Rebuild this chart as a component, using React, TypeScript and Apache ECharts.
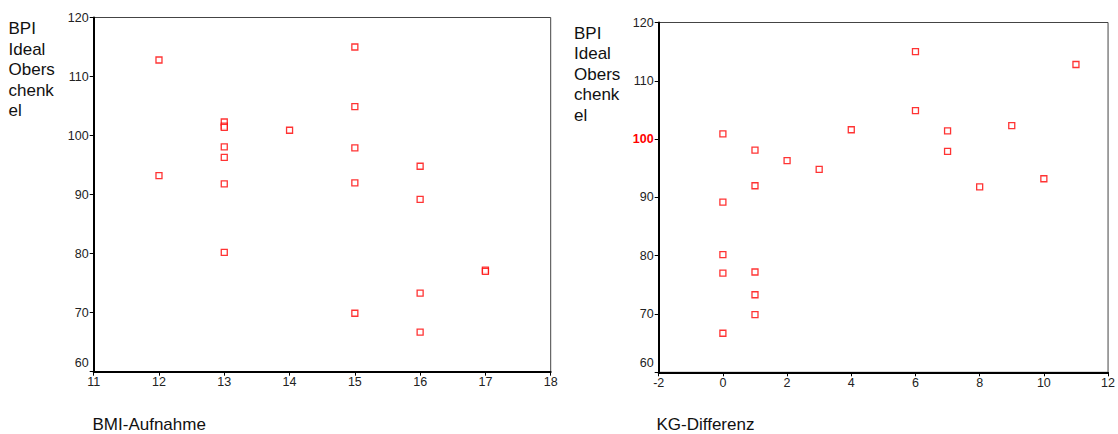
import React, { useEffect, useRef } from "react";
import * as echarts from "echarts";

const bpiIdeal = [112.8, 93.2, 102.3, 101.6, 101.4, 98.1, 96.3, 91.8, 80.2, 100.9, 115.0, 104.9, 97.9, 92.0, 69.9, 94.8, 89.2, 73.3, 66.7, 77.2, 77.0];
const bmiAufnahme = [12, 12, 13, 13, 13, 13, 13, 13, 13, 14, 15, 15, 15, 15, 15, 16, 16, 16, 16, 17, 17];
const kgDifferenz = [11, 10, 9, 4, 7, 1, 2, 8, 0, 0, 6, 6, 7, 1, 1, 3, 0, 1, 0, 1, 0];

const yAxisTitle = ["BPI", "Ideal", "Obers", "chenk", "el"];
const xTitleLeft = "BMI-Aufnahme";
const xTitleRight = "KG-Differenz";

const FONT = "'Liberation Sans', Arial, sans-serif";
const TICK_FS = 12.5;

export default function App() {
  const ref = useRef<HTMLDivElement>(null);
  useEffect(() => {
    if (!ref.current) return;
    const chart = echarts.init(ref.current, null, { renderer: "svg" });
    const leftData = bmiAufnahme.map((x, i) => [x, bpiIdeal[i]]);
    const rightData = kgDifferenz.map((x, i) => [x, bpiIdeal[i]]);

    const yAxisBase = (gi: number, highlight: boolean) => ({
      type: "value",
      gridIndex: gi,
      min: 60,
      max: 120,
      interval: 10,
      splitLine: { show: false },
      axisLine: { show: true, onZero: false, lineStyle: { color: "#000", width: 2 } },
      axisTick: { show: true, length: 4, lineStyle: { color: "#000", width: 1 } },
      axisLabel: {
        margin: 5,
        fontFamily: FONT,
        fontSize: TICK_FS,
        color: "#222",
        formatter: (v: number) => {
          if (v === 60) return "{bot|" + v + "}";
          if (highlight && v === 100) return "{hl|" + v + "}";
          return String(v);
        },
        rich: {
          bot: { fontFamily: FONT, fontSize: TICK_FS, color: "#222", padding: [0, 0, 18, 0] },
          hl: { fontFamily: FONT, fontSize: TICK_FS, color: "#f00", fontWeight: "bold" },
        },
      },
    });

    const xAxisBase = (gi: number, min: number, max: number, interval: number) => ({
      type: "value",
      gridIndex: gi,
      min,
      max,
      interval,
      splitLine: { show: false },
      axisLine: { show: true, onZero: false, lineStyle: { color: "#000", width: 2 } },
      axisTick: { show: true, length: 4, lineStyle: { color: "#000", width: 1 } },
      axisLabel: { margin: 4, fontFamily: FONT, fontSize: TICK_FS, color: "#222" },
    });

    const seriesStyle = {
      type: "scatter",
      symbol: "rect",
      symbolSize: 6,
      itemStyle: { color: "#fff", borderColor: "#f00", borderWidth: 1.3 },
    };

    const yTitle = (x: number, y: number) =>
      yAxisTitle.map((t, i) => ({
        type: "text",
        x,
        y: y + i * 20.6,
        style: { text: t, font: `17px ${FONT}`, fill: "#111", verticalAlign: "middle" },
      }));

    chart.setOption({
      animation: false,
      backgroundColor: "#fff",
      grid: [
        { left: 93.7, top: 17.5, width: 457, height: 354.2, show: true, borderColor: "#444", borderWidth: 1, backgroundColor: "transparent" },
        { left: 658.7, top: 22.5, width: 450.3, height: 349.8, show: true, borderColor: "#444", borderWidth: 1, backgroundColor: "transparent" },
      ],
      xAxis: [xAxisBase(0, 11, 18, 1), xAxisBase(1, -2, 12, 2)],
      yAxis: [yAxisBase(0, false), yAxisBase(1, true)],
      series: [
        { ...seriesStyle, xAxisIndex: 0, yAxisIndex: 0, data: leftData },
        { ...seriesStyle, xAxisIndex: 1, yAxisIndex: 1, data: rightData },
      ],
      graphic: [
        ...yTitle(8.5, 28.5),
        ...yTitle(574, 33),
        { type: "text", x: 92.5, y: 424.5, style: { text: xTitleLeft, font: `17px ${FONT}`, fill: "#111", verticalAlign: "middle" } },
        { type: "text", x: 656.5, y: 424.5, style: { text: xTitleRight, font: `17px ${FONT}`, fill: "#111", verticalAlign: "middle" } },
      ],
    });
    return () => chart.dispose();
  }, []);
  return <div ref={ref} style={{ position: "fixed", left: 0, top: 0, width: 1118, height: 434 }} />;
}
